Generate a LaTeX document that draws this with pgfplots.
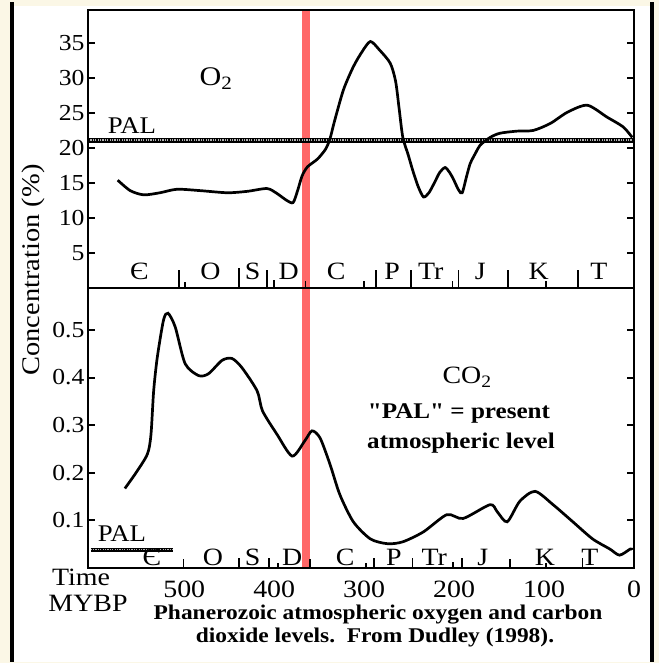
\documentclass[border=0pt]{standalone}
\usepackage{fontspec}
\setmainfont{Liberation Serif}[FakeStretch=1.12]
\newfontfamily\plainq{Liberation Serif}[FakeStretch=1.12, Ligatures=TeXOff]
\usepackage{pgfplots}
\pgfplotsset{compat=1.18}
\definecolor{cream}{HTML}{FBF7E6}
\definecolor{band}{HTML}{FF6868}
\newcommand\fs[1]{\fontsize{#1}{#1}\selectfont}
\begin{document}
\begin{tikzpicture}[x=1bp,y=1bp]
\fill[cream] (0,0) rectangle (659,663);
\fill[white] (14,1) rectangle (650,657);
\fill[black] (10,1) rectangle (14,661);
\fill[black] (650,1) rectangle (654,661);
\pgfplotsset{
  panel/.style={
    scale only axis, width=546bp, xmin=0, xmax=607, x dir=reverse,
    axis line style={line width=2.7bp},
    tick style={line width=2bp, black},
    major tick length=7bp,
    xtick pos=left, ytick pos=both, tick align=inside,
    xtick style={draw=none},
    tick label style={font=\fs{23}},
    /pgf/number format/assume math mode=true,
    axis on top, clip=false,
  },
  curve/.style={black, line width=2.7bp, smooth, tension=0.45, mark=none},
  sep/.style={ycomb, black, line width=1.5bp, mark=none},
}
% ---------- top panel: O2 ----------
\begin{axis}[panel, at={(88bp,375bp)}, anchor=south west, height=278bp,
  ymin=0, ymax=39.7, ytick={5,10,...,35}, xtick=\empty]
\addplot[fill=band, draw=none] coordinates {(369,39.7) (360,39.7)} \closedcycle;
\addplot[black, line width=5bp] coordinates {(0,21.1) (607,21.1)};
\addplot[gray!60, line width=1.5bp, dash pattern=on 1.2bp off 1.2bp] coordinates {(0,21.1) (607,21.1)};
\addplot[curve] coordinates {
(574,15.4) (560,13.9) (545,13.3) (527,13.6) (508,14.1) (482,13.9) (452,13.6)
(430,13.8) (408,14.2) (397,13.5) (386,12.5) (379,12.2) (374,13.9) (369,16.0)
(363,17.3) (352,18.4) (343,19.8) (338,21.3) (333,23.8) (323,28.3) (312,31.6)
(302,33.8) (293,35.2) (283,34.0) (271,32.1) (265,29.5) (261,25.5) (257,21.5)
(251,19.0) (246,16.8) (240,14.5) (234,13.0) (228,13.6) (222,15.0) (216,16.5)
(210,17.2) (205,16.5) (201,15.6) (195,14.0) (191,13.6) (186,16.0) (182,17.8)
(176,19.3) (171,20.4) (160,21.5) (149,22.1) (130,22.4) (112,22.5) (93,23.5)
(74,25.1) (52,26.1) (30,24.4) (12,23.0) (2,21.5)};
\addplot[sep] coordinates {(506,2.6) (439,2.8) (408,2.6) (287,2.6) (248,2.6) (195,2.6) (140,2.6) (62,2.6)};
\addplot[sep] coordinates {(499,0.9) (400,1.1) (365,1.0) (300,1.0) (202,1.0) (98,1.0)};
\begin{scope}[every node/.style={font=\fs{25}}]
\node at (axis cs:550,2.4) {Є};
\node at (axis cs:471,2.4) {O};
\node at (axis cs:424,2.4) {S};
\node at (axis cs:384,2.4) {D};
\node at (axis cs:331,2.4) {C};
\node at (axis cs:269,2.4) {P};
\node at (axis cs:226,2.4) {Tr};
\node at (axis cs:171,2.4) {J};
\node at (axis cs:106,2.4) {K};
\node at (axis cs:39,2.4) {T};
\end{scope}
\end{axis}
% ---------- lower panel: CO2 ----------
\begin{axis}[panel, at={(88bp,95bp)}, anchor=south west, height=280bp,
  ymin=0, ymax=0.588, ytick={0.1,0.2,0.3,0.4,0.5},
  yticklabels={0.1,0.2,0.3,0.4,0.5},
  xtick={0,100,200,300,400,500},
  xticklabels={0,100,200,300,400,500},
  x tick label style={font=\fs{25}, inner sep=0.5bp, yshift=-12bp}]
\addplot[fill=band, draw=none] coordinates {(369,0.588) (360,0.588)} \closedcycle;
\addplot[black, line width=3.5bp] coordinates {(604,0.038) (512,0.038)};
\addplot[gray!60, line width=1bp, dash pattern=on 1.2bp off 1.2bp] coordinates {(604,0.038) (512,0.038)};
\addplot[curve] coordinates {
(566,0.167) (554,0.199) (541,0.239) (537,0.280) (534,0.372) (530,0.442)
(523,0.521) (518,0.535) (510,0.506) (499,0.429) (484,0.404) (473,0.408)
(458,0.436) (447,0.440) (436,0.421) (419,0.372) (413,0.330) (397,0.281)
(380,0.235) (366,0.267) (358,0.288) (349,0.273) (338,0.218) (327,0.154)
(312,0.097) (293,0.061) (274,0.051) (257,0.055) (234,0.076) (208,0.112)
(190,0.104) (160,0.133) (152,0.118) (141,0.097) (127,0.140) (110,0.161)
(90,0.133) (68,0.097) (46,0.061) (27,0.040) (16,0.027) (4,0.040) (2,0.038)};
\addplot[sep] coordinates {(501,0.018) (439,0.02) (406,0.02) (360,0.018) (289,0.02) (246,0.02) (191,0.02) (138,0.018) (57,0.02)};
\addplot[sep] coordinates {(396,0.01) (298,0.01) (201,0.012) (98,0.01)};
\begin{scope}[every node/.style={font=\fs{25}}]
\node at (axis cs:536,0.022) {Є};
\node at (axis cs:468,0.022) {O};
\node at (axis cs:424,0.022) {S};
\node at (axis cs:380,0.022) {D};
\node at (axis cs:321,0.022) {C};
\node at (axis cs:267,0.022) {P};
\node at (axis cs:222,0.022) {Tr};
\node at (axis cs:168,0.022) {J};
\node at (axis cs:99,0.022) {K};
\node at (axis cs:49,0.022) {T};
\end{scope}
\end{axis}
% ---------- texts ----------
\node[font=\fs{27}] at (216,584) {O\textsubscript{2}};
\node[font=\fs{24}] at (132,537) {PAL};
\node[font=\fs{24}] at (122,129) {PAL};
\node[font=\fs{25}] at (467,286) {CO\textsubscript{2}};
\node[font=\plainq\bfseries\fs{22.5}] at (459,250) {"PAL" = present};
\node[font=\bfseries\fs{22.5}] at (461,220) {atmospheric level};
\node[font=\fs{25.5}, rotate=90] at (33,393) {Concentration (\%)};
\node[font=\fs{25}, inner sep=1bp] at (81,86) {Time};
\node[font=\fs{25}, inner sep=1bp] at (88,60) {MYBP};
\node[font=\bfseries\fs{21}, inner sep=1bp] at (378,48) {Phanerozoic atmospheric oxygen and carbon};
\node[font=\bfseries\fs{21}, inner sep=1bp] at (375,26) {dioxide levels.\ \ From Dudley (1998).};
\end{tikzpicture}
\end{document}
